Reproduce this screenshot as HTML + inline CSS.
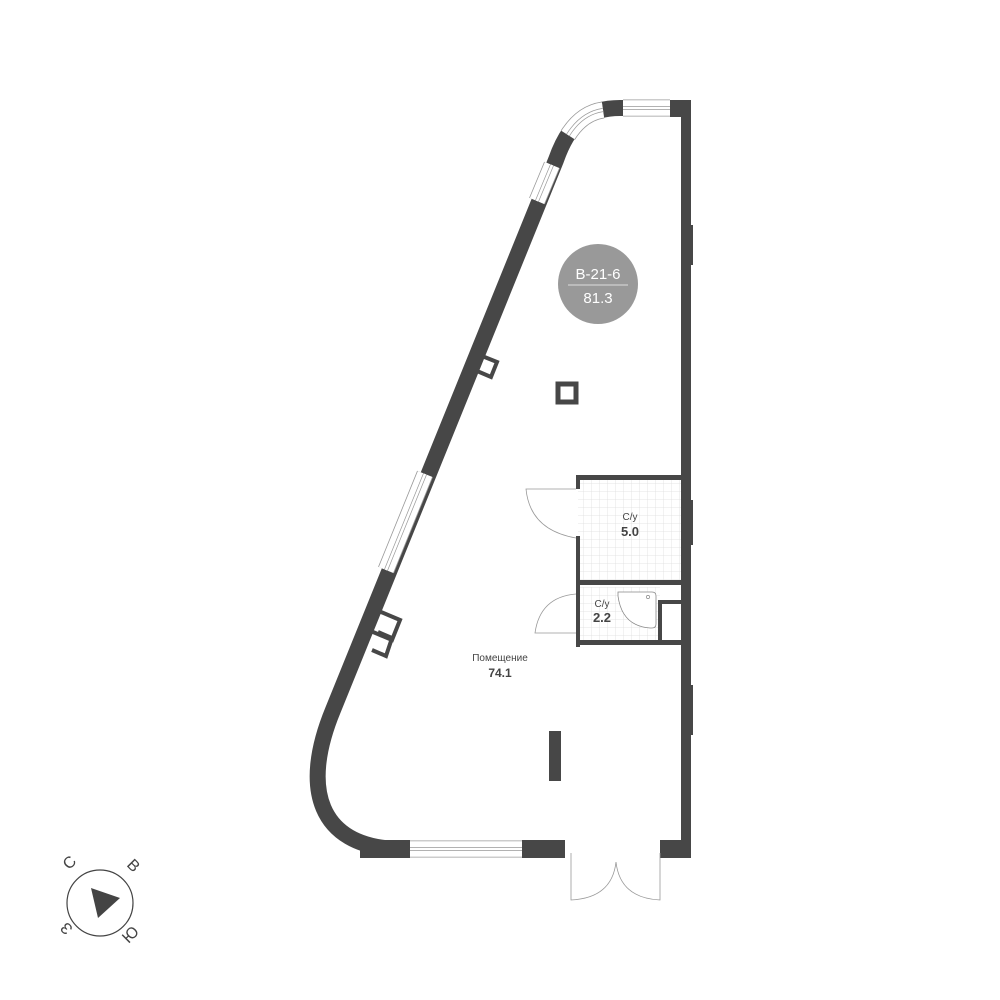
<!DOCTYPE html>
<html><head><meta charset="utf-8"><style>
html,body{margin:0;padding:0;background:#fff;}
svg{display:block;font-family:"Liberation Sans",sans-serif;}
</style></head><body>
<svg width="1000" height="1000" viewBox="0 0 1000 1000">
<defs>
<pattern id="tile" x="576" y="476" width="8" height="8" patternUnits="userSpaceOnUse">
<path d="M8 0V8M0 8H8" stroke="#dedede" stroke-width="0.8" fill="none"/>
</pattern>
</defs>
<rect x="578" y="480" width="103" height="103" fill="url(#tile)"/>
<rect x="580" y="587" width="80" height="54" fill="url(#tile)"/>
<!-- main walls -->
<path d="M686 104 L686 858" stroke="#474747" stroke-width="10" fill="none"/>
<path d="M690 108 L620 108 C590 108 570 120 556 160 L333 710 C300 790 320 845 395 849" stroke="#474747" stroke-width="16" fill="none"/>
<rect x="670" y="100" width="21" height="17" fill="#474747"/>
<rect x="360" y="840" width="50" height="18" fill="#474747"/>
<rect x="522" y="840" width="43" height="18" fill="#474747"/>
<rect x="660" y="840" width="31" height="18" fill="#474747"/>
<rect x="689" y="225" width="4" height="40" fill="#474747"/>
<rect x="689" y="500" width="4" height="45" fill="#474747"/>
<rect x="689" y="685" width="4" height="50" fill="#474747"/>
<!-- windows: layered strokes -->
<g fill="none">
<g id="wins">
<path d="M670 108 H623"/>
<path d="M603 110 Q582 113 568 135"/>
<path d="M552 165 L537 201"/>
<path d="M425 474 L386 570"/>
<path d="M410 849 H522"/>
</g>
</g>
<use href="#wins" stroke="#999" stroke-width="17" fill="none"/>
<use href="#wins" stroke="#fff" stroke-width="15.4" fill="none"/>
<use href="#wins" stroke="#999" stroke-width="4" fill="none"/>
<use href="#wins" stroke="#fff" stroke-width="2.6" fill="none"/>
<!-- door gap -->
<rect x="565" y="838" width="95" height="22" fill="#fff"/>
<path d="M571 853V900 Q612 898 616 862 Q620 898 660 900 V853" stroke="#999" stroke-width="0.8" fill="none"/>
<!-- wall attachments -->
<g stroke="#474747" stroke-width="4" fill="none">
<path d="M482 356 L497 362 L491 377 L477 371"/>
<path d="M381 612 L400 620 L392 640 L373 632"/>
<path d="M378 632 L392 638 L386 656 L372 650"/>
</g>
<rect x="558" y="384" width="18" height="18" fill="none" stroke="#474747" stroke-width="5"/>
<rect x="549" y="731" width="12" height="50" fill="#474747"/>
<!-- bathroom walls -->
<g fill="#474747">
<rect x="576" y="475" width="106" height="5"/>
<rect x="576" y="475" width="4" height="14"/>
<rect x="576" y="536" width="4" height="111"/>
<rect x="576" y="580" width="106" height="5"/>
<rect x="576" y="640" width="106" height="5"/>
<rect x="658" y="600" width="24" height="4"/>
<rect x="658" y="600" width="4" height="45"/>
</g>
<!-- shower -->
<path d="M618 592 H652 Q656 592 656 596 V624 Q656 628 652 628 H650 Q622 626 618 596 Z" fill="#fff" stroke="#888" stroke-width="0.8"/>
<circle cx="648" cy="597" r="1.6" fill="none" stroke="#888" stroke-width="0.7"/>
<!-- doors -->
<path d="M576 489 H526 Q530 530 576 538" stroke="#999" stroke-width="0.8" fill="none"/>
<path d="M576 594 Q540 597 535 633 H576" stroke="#999" stroke-width="0.8" fill="none"/>
<!-- labels -->
<g fill="#444" text-anchor="middle">
<text x="630" y="520" font-size="10">С/у</text>
<text x="630" y="536" font-size="13" font-weight="bold">5.0</text>
<text x="602" y="607" font-size="10">С/у</text>
<text x="602" y="622" font-size="13" font-weight="bold">2.2</text>
<text x="500" y="661" font-size="10">Помещение</text>
<text x="500" y="677" font-size="12" font-weight="bold">74.1</text>
</g>
<!-- badge -->
<circle cx="598" cy="284" r="40" fill="#999"/>
<text x="598" y="279" font-size="15" fill="#fff" text-anchor="middle">В-21-6</text>
<line x1="568" y1="285" x2="628" y2="285" stroke="#ddd" stroke-width="1"/>
<text x="598" y="303" font-size="15" fill="#fff" text-anchor="middle">81.3</text>
<!-- compass -->
<circle cx="100" cy="903" r="33" fill="none" stroke="#444" stroke-width="1.2"/>
<path d="M91 888 L120 898 L98 918 Z" fill="#444"/>
<g fill="#444" font-size="16" text-anchor="middle">
<text x="69" y="868" transform="rotate(-45 69 862)">С</text>
<text x="134" y="871" transform="rotate(45 134 865)">В</text>
<text x="66" y="935" transform="rotate(-135 66 929)">З</text>
<text x="130" y="940" transform="rotate(-45 130 934)">Ю</text>
</g>
</svg>
</body></html>
